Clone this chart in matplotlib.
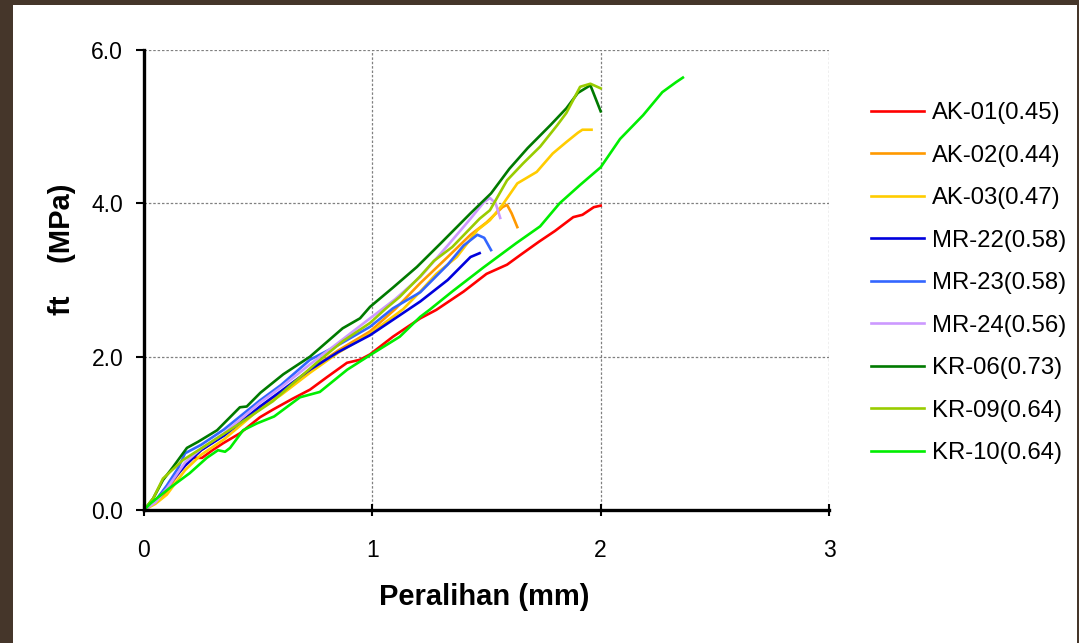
import numpy as np
import matplotlib
matplotlib.use("Agg")
import matplotlib.pyplot as plt
from matplotlib.patches import Rectangle
from matplotlib.ticker import FormatStrFormatter

plt.rcParams['font.family'] = ['Liberation Sans', 'DejaVu Sans']

# ---- data (displacement mm, ft MPa) ----
labels = ['AK-01(0.45)', 'AK-02(0.44)', 'AK-03(0.47)', 'MR-22(0.58)', 'MR-23(0.58)',
          'MR-24(0.56)', 'KR-06(0.73)', 'KR-09(0.64)', 'KR-10(0.64)']
colors = ['#ff0000', '#ff9900', '#ffcc00', '#0000dd', '#3366ff',
          '#cc99ff', '#007a00', '#99cc00', '#00ee00']

ak01_x = [0, 0.05, 0.1, 0.136, 0.18, 0.215, 0.254, 0.3, 0.346, 0.42, 0.508, 0.565, 0.65, 0.727, 0.8,
          0.889, 0.946, 0.99, 1.09, 1.21, 1.28, 1.4, 1.5, 1.59, 1.65, 1.73, 1.8, 1.88, 1.92, 1.97, 2.0]
ak01_y = [0, 0.1, 0.25, 0.43, 0.58, 0.68, 0.68, 0.78, 0.87, 1.0, 1.21, 1.31, 1.45, 1.57, 1.73,
          1.92, 1.96, 2.03, 2.26, 2.5, 2.61, 2.85, 3.08, 3.2, 3.33, 3.5, 3.64, 3.82, 3.85, 3.95, 3.97]

ak02_x = [0, 0.05, 0.1, 0.18, 0.25, 0.35, 0.508, 0.6, 0.727, 0.85, 0.99, 1.1, 1.21, 1.33, 1.43,
          1.5, 1.57, 1.59, 1.61, 1.635]
ak02_y = [0, 0.1, 0.25, 0.6, 0.78, 0.98, 1.33, 1.52, 1.83, 2.08, 2.33, 2.62, 2.96, 3.3, 3.59,
          3.75, 3.95, 3.98, 3.87, 3.69]

ak03_x = [0, 0.05, 0.1, 0.18, 0.25, 0.35, 0.508, 0.6, 0.727, 0.85, 0.99, 1.135, 1.21, 1.28, 1.37,
          1.46, 1.515, 1.57, 1.635, 1.72, 1.79, 1.85, 1.9, 1.92, 1.96]
ak03_y = [0, 0.08, 0.2, 0.52, 0.72, 0.92, 1.32, 1.5, 1.79, 2.05, 2.3, 2.62, 2.85, 3.08, 3.3,
          3.65, 3.78, 3.98, 4.26, 4.41, 4.65, 4.8, 4.92, 4.96, 4.96]

mr22_x = [0, 0.05, 0.1, 0.18, 0.25, 0.35, 0.508, 0.6, 0.727, 0.85, 0.99, 1.1, 1.21, 1.33, 1.43, 1.47]
mr22_y = [0, 0.12, 0.3, 0.58, 0.78, 0.97, 1.35, 1.55, 1.83, 2.06, 2.28, 2.5, 2.72, 3.0, 3.3, 3.35]

mr23_x = [0, 0.05, 0.1, 0.15, 0.18, 0.25, 0.35, 0.508, 0.6, 0.727, 0.85, 0.99, 1.09, 1.21, 1.33,
          1.4, 1.46, 1.49, 1.52]
mr23_y = [0, 0.12, 0.32, 0.55, 0.74, 0.85, 1.05, 1.43, 1.63, 1.96, 2.15, 2.39, 2.63, 2.84, 3.2,
          3.45, 3.59, 3.55, 3.39]

mr24_x = [0, 0.05, 0.1, 0.18, 0.25, 0.35, 0.508, 0.6, 0.727, 0.85, 0.99, 1.1, 1.21, 1.33, 1.43,
          1.49, 1.515, 1.54, 1.56]
mr24_y = [0, 0.1, 0.28, 0.62, 0.8, 1.0, 1.4, 1.6, 1.9, 2.18, 2.5, 2.75, 3.04, 3.45, 3.8,
          4.02, 4.07, 4.0, 3.81]

kr06_x = [0, 0.04, 0.083, 0.127, 0.188, 0.237, 0.32, 0.42, 0.45, 0.51, 0.61, 0.727, 0.87, 0.946,
          0.99, 1.09, 1.195, 1.3, 1.43, 1.52, 1.6, 1.68, 1.78, 1.85, 1.9, 1.955, 2.0]
kr06_y = [0, 0.15, 0.39, 0.56, 0.81, 0.89, 1.04, 1.34, 1.35, 1.53, 1.77, 2.0, 2.37, 2.5,
          2.65, 2.9, 3.17, 3.48, 3.87, 4.13, 4.45, 4.72, 5.02, 5.24, 5.44, 5.54, 5.2]

kr09_x = [0, 0.04, 0.083, 0.17, 0.275, 0.42, 0.565, 0.64, 0.76, 0.87, 0.99, 1.06, 1.12, 1.18,
          1.21, 1.27, 1.35, 1.47, 1.515, 1.59, 1.66, 1.735, 1.81, 1.85, 1.91, 1.955, 2.0]
kr09_y = [0, 0.15, 0.41, 0.65, 0.85, 1.13, 1.42, 1.62, 1.93, 2.2, 2.44, 2.63, 2.78, 2.96,
          3.05, 3.25, 3.43, 3.8, 3.91, 4.3, 4.52, 4.74, 5.02, 5.18, 5.52, 5.56, 5.5]

kr10_x = [0, 0.03, 0.114, 0.2, 0.275, 0.324, 0.355, 0.377, 0.434, 0.495, 0.57, 0.683, 0.77, 0.89,
          0.99, 1.12, 1.21, 1.25, 1.35, 1.485, 1.63, 1.735, 1.82, 1.91, 2.0, 2.085, 2.186, 2.27,
          2.33, 2.36]
kr10_y = [0, 0.09, 0.29, 0.48, 0.68, 0.78, 0.76, 0.81, 1.04, 1.13, 1.22, 1.47, 1.54, 1.83,
          2.02, 2.26, 2.52, 2.61, 2.85, 3.16, 3.48, 3.7, 4.0, 4.24, 4.47, 4.84, 5.15, 5.45,
          5.58, 5.64]

xs = [ak01_x, ak02_x, ak03_x, mr22_x, mr23_x, mr24_x, kr06_x, kr09_x, kr10_x]
ys = [ak01_y, ak02_y, ak03_y, mr22_y, mr23_y, mr24_y, kr06_y, kr09_y, kr10_y]

# ---- figure ----
W, H = 1079, 643
fig = plt.figure(figsize=(W / 100, H / 100), dpi=100)
fig.patch.set_facecolor('#45362a')
fig.patches.append(Rectangle((13 / W, 0), (1077 - 13) / W, (H - 5) / H,
                             transform=fig.transFigure, facecolor='white',
                             edgecolor='none', zorder=-10))

ax = fig.add_axes([144 / W, (H - 510) / H, (829 - 144) / W, (510 - 50) / H])
ax.set_facecolor('white')
ax.set_zorder(5)

for x, y, c, lab in zip(xs, ys, colors, labels):
    ax.plot(x, y, color=c, lw=1.9, label=lab, solid_joinstyle='round')

ax.set_xlim(0, 3)
ax.set_ylim(0, 6)
ax.set_xticks([0, 1, 2, 3])
ax.set_yticks([0, 2, 4, 6])
ax.yaxis.set_major_formatter(FormatStrFormatter('%.1f'))
ax.grid(True, color='#808080', lw=0.9, linestyle=(0, (2, 1.5)))
ax.set_axisbelow(True)

for s in ['top', 'right']:
    ax.spines[s].set_visible(False)
for s in ['left', 'bottom']:
    ax.spines[s].set_linewidth(2.4)
    ax.spines[s].set_color('black')

ax.tick_params(axis='y', direction='out', length=6, width=1.5, labelsize=16.5, pad=9)
ax.tick_params(axis='x', direction='inout', length=8, width=1.5, labelsize=16.5, pad=17)

fig.text(484 / W, 1 - 597 / H, 'Peralihan (mm)', ha='center', va='center',
         fontsize=21, fontweight='bold', zorder=6)
fig.text(62 / W, 1 - 249 / H, 'ft    (MPa)', ha='center', va='center',
         fontsize=21, fontweight='bold', rotation=90, zorder=6)

leg = fig.legend(loc='upper left', bbox_to_anchor=(871 / W, 1 - 102 / H), frameon=False,
                 fontsize=17.2, handlelength=2.2, handletextpad=0.35, labelspacing=0.86,
                 borderpad=0, borderaxespad=0)
leg.set_zorder(6)

fig.savefig('out.png', dpi=100, facecolor=fig.get_facecolor())
